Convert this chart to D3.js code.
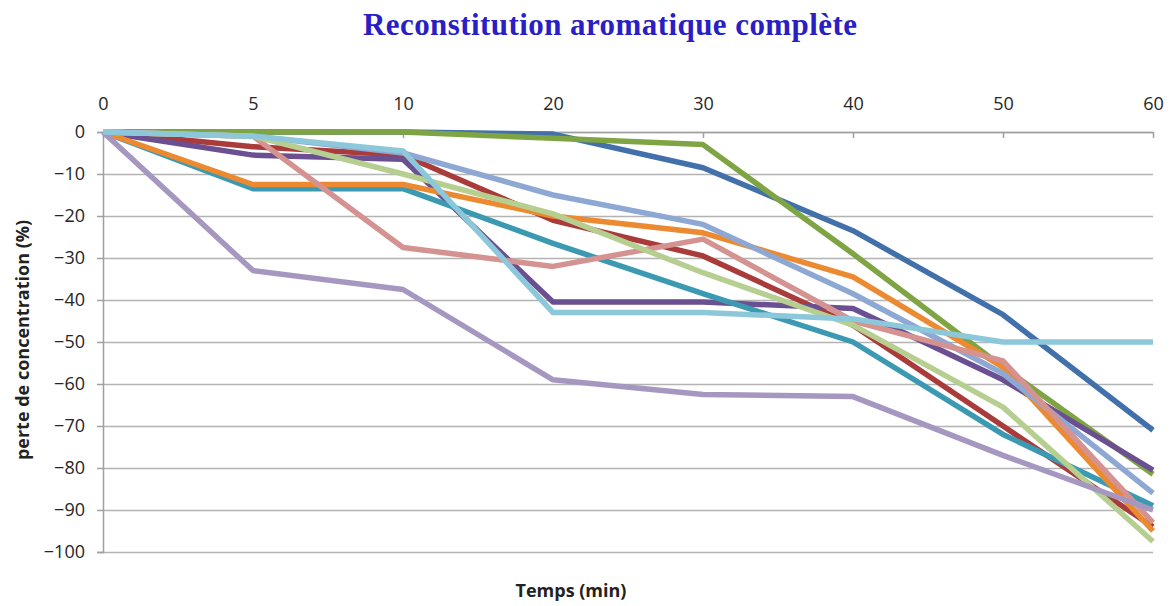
<!DOCTYPE html>
<html>
<head>
<meta charset="utf-8">
<script src="https://cdn.jsdelivr.net/npm/d3@7"></script>
<style>
  body { margin: 0; background: #fff; }
  .tick text { font-family: "Open Sans", sans-serif; font-size: 18px; fill: #262626; }
</style>
</head>
<body>
<div id="chart"></div>
<script>
var fullWidth = 1173;
var fullHeight = 606;
var margin = {top: 132, right: 20, bottom: 54, left: 103};
var width = 1050;
var height = 420;

// temps (min), en categories
var times = ["0", "5", "10", "20", "30", "40", "50", "60"];
var yTicks = [0, -10, -20, -30, -40, -50, -60, -70, -80, -90, -100];

// pertes de concentration (%) par composé
var s1 = [0, 0, 0, -0.5, -8.5, -23.5, -43.5, -71];
var s2 = [0, -3.5, -5.5, -21, -29.5, -46, -70, -94];
var s3 = [0, 0, 0, -1.5, -3, -29, -56, -81.5];
var s4 = [0, -5.5, -6.5, -40.5, -40.5, -42, -59, -80.5];
var s5 = [0, -13.5, -13.5, -26.5, -38.5, -50, -72, -89];
var s6 = [0, -12.5, -12.5, -20, -24, -34.5, -56, -95];
var s7 = [0, -1, -5, -15, -22, -38.5, -57.5, -86];
var s8 = [0, -1, -27.5, -32, -25.5, -45, -54.5, -93];
var s9 = [0, -1, -10, -19.5, -33.5, -46, -65.5, -97.5];
var s10 = [0, -33, -37.5, -59, -62.5, -63, -77, -90];
var s11 = [0, -1, -4.5, -43, -43, -44.5, -50, -50];

var series = [s1, s2, s3, s4, s5, s6, s7, s8, s9, s10, s11];
var colors = ["#4170ab", "#a93c3a", "#7fa444", "#6a4f91", "#3b9ab2", "#ec8a32",
              "#8ea8d4", "#d49290", "#b6cf90", "#a697c1", "#8cc7da"];

var svg = d3.select("#chart")
            .append("svg")
            .attr("width", fullWidth)
            .attr("height", fullHeight);

var g = svg.append("g")
           .attr("transform", "translate(" + margin.left + "," + margin.top + ")");

var xScale = d3.scalePoint().domain(times).range([0, width]);
var yScale = d3.scaleLinear().domain([-100, 0]).range([height, 0]);

// grille horizontale
g.append("g")
 .attr("class", "grid")
 .call(d3.axisLeft(yScale).tickValues(yTicks).tickSize(-width).tickFormat(""))
 .call(function(s) {
   s.select(".domain").remove();
   s.selectAll("line").attr("stroke", "#b3b3b3").attr("stroke-width", 1.5);
 });

// axe y
g.append("g")
 .call(d3.axisLeft(yScale).tickValues(yTicks).tickSize(6).tickPadding(12))
 .call(function(s) {
   s.select(".domain").attr("stroke", "#a0a0a0").attr("stroke-width", 1.5);
   s.selectAll("line").attr("stroke", "#a0a0a0").attr("stroke-width", 1.5);
 });

// axe x en haut, graduations vers le bas
g.append("g")
 .call(d3.axisTop(xScale).tickSize(-6).tickSizeOuter(0).tickPadding(22))
 .call(function(s) {
   s.select(".domain").attr("stroke", "#a0a0a0").attr("stroke-width", 1.5);
   s.selectAll("line").attr("stroke", "#a0a0a0").attr("stroke-width", 1.5);
 });

var line = d3.line()
  .x(function(d, i) { return xScale(times[i]); })
  .y(function(d) { return yScale(d); });

g.selectAll(".serie")
 .data(series)
 .enter()
 .append("path")
 .attr("class", "serie")
 .attr("d", line)
 .attr("fill", "none")
 .attr("stroke", function(d, i) { return colors[i]; })
 .attr("stroke-width", 5.5)
 .attr("stroke-linejoin", "round");

// titre
svg.append("text")
   .attr("x", 610)
   .attr("y", 35)
   .attr("text-anchor", "middle")
   .attr("font-family", "Liberation Serif, serif")
   .attr("font-weight", "bold")
   .attr("font-size", 31)
   .attr("textLength", 494)
   .attr("fill", "#2a1fc4")
   .text("Reconstitution aromatique complète");

// titres des axes
svg.append("text")
   .attr("x", 571)
   .attr("y", 597)
   .attr("text-anchor", "middle")
   .attr("font-family", "Open Sans, sans-serif")
   .attr("font-weight", "bold")
   .attr("font-size", 18)
   .attr("fill", "#222")
   .text("Temps (min)");

svg.append("text")
   .attr("transform", "translate(29,340) rotate(-90)")
   .attr("text-anchor", "middle")
   .attr("font-family", "Open Sans, sans-serif")
   .attr("font-weight", "bold")
   .attr("font-size", 18)
   .attr("fill", "#222")
   .text("perte de concentration (%)");
</script>
</body>
</html>
